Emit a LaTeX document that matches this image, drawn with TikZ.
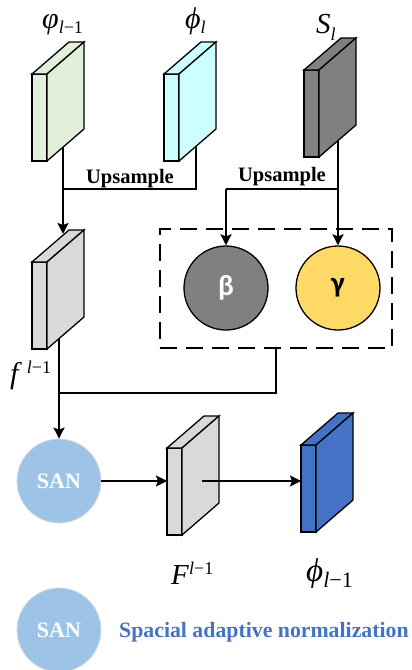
\documentclass[tikz,border=0pt]{standalone}
\usepackage{fontspec}
\setmainfont{Liberation Serif}
\newfontfamily\calib{Carlito}
\usetikzlibrary{arrows.meta}
\definecolor{cgreen}{HTML}{E2EFDA}
\definecolor{ccyan}{HTML}{CCFFFF}
\definecolor{cdark}{HTML}{808080}
\definecolor{clight}{HTML}{D9D9D9}
\definecolor{cblue}{HTML}{4472C4}
\definecolor{cyel}{HTML}{FFD966}
\definecolor{csan}{HTML}{9DC3E6}
\newcommand{\slab}[3]{%
  \filldraw[slabline,fill=#3] (#1,#2) rectangle ++(15,87);
  \filldraw[slabline,fill=#3] (#1,#2) -- ++(37,-32) -- ++(15,0) -- ++(-37,32) -- cycle;
  \filldraw[slabline,fill=#3] (#1+15,#2) -- ++(37,-32) -- ++(0,87) -- ++(-37,32) -- cycle;
}
\newcommand{\fsz}[1]{\fontsize{#1}{#1}\selectfont}
\begin{document}
\begin{tikzpicture}[x=1pt,y=-1pt,
  slabline/.style={draw=black,line width=1.3pt,line join=miter},
  conn/.style={draw=black,line width=2pt},
  arr/.style={conn,-{Stealth[length=11pt,width=11pt,inset=2pt]}},
  circ/.style={circle,minimum size=84pt,inner sep=0pt,draw=black,line width=1.3pt},
  sancirc/.style={circle,minimum size=84pt,inner sep=0pt,fill=csan,draw=white!70!gray,line width=0.8pt,text=white,font=\fsz{22}\bfseries},
  lbl/.style={inner sep=0pt,anchor=base west},
  upl/.style={inner sep=0pt,font=\fsz{20.5}\bfseries}]
\useasboundingbox (0,0) rectangle (412,670);
% slabs
\slab{32}{74}{cgreen}
\slab{164}{74}{ccyan}
\slab{304}{70}{cdark}
\slab{32}{262}{clight}
\slab{167}{448}{clight}
\slab{301}{445}{cblue}
% labels
\node[lbl] (lphi) at (42,28) {\fsz{30}\textit{φ}\raisebox{-5pt}{\fsz{18}\textit{l}−1}};
\node[lbl] (lphil) at (185,28) {\fsz{30}\textit{ϕ}\raisebox{-5pt}{\fsz{18}\textit{l}}};
\node[lbl] (lS) at (316,33) {\fsz{29}\textit{S}\raisebox{-7pt}{\fsz{18}\textit{l}}};
\node[lbl] (lf) at (10,383) {\fsz{30}\textit{f}\,\raisebox{10pt}{\fsz{18}\textit{l}−1}};
\node[lbl] (lF) at (171,584) {\fsz{29}\textit{F}\raisebox{10pt}{\fsz{18}\textit{l}−1}};
\node[lbl] (lphi2) at (306,581) {\fsz{33}\textit{ϕ}\raisebox{-6pt}{\fsz{22}\textit{l}−1}};
% anchors on slabs
\coordinate (gs) at (63,147);
\coordinate (cs) at (196,147);
\coordinate (ss) at (338,141);
\coordinate (ftop) at (63,234);
\coordinate (fs) at (59,338);
\coordinate (Fin) at (167,481);
\coordinate (Fc) at (202,481);
\coordinate (Bin) at (301,481);
\coordinate (up1) at (0,189);
\coordinate (jn) at (0,393);
% circles
\node[circ,fill=cdark,text=white,font=\calib\fsz{29}\bfseries] (beta) at (226,288) {β};
\node[circ,fill=cyel,text=black,font=\calib\fsz{29}\bfseries] (gamma) at (338,288) {γ};
\node[draw=black,line width=2pt,dash pattern=on 17pt off 9pt,inner sep=0pt,minimum width=232pt,minimum height=119pt] (dbox) at (276,288.5) {};
\node[sancirc] (san) at (59,481) {SAN};
\node[sancirc] (san2) at (59,630) {SAN};
\node[inner sep=0pt,anchor=west,text=cblue,font=\fsz{21.8}\bfseries] (legend) at (119,632) {Spacial adaptive normalization};
% upsample labels
\node[upl] (up1lbl) at (130,179) {Upsample};
\node[upl] (up2lbl) at (282,177) {Upsample};
% connectors
\draw[conn] (gs) -- (gs |- up1) -- (cs |- up1) -- (cs);
\draw[arr] (gs |- up1) -- (ftop);
\draw[conn] (ss) -- (ss |- up1) -- (beta.north |- up1);
\draw[arr] (beta.north |- up1) -- (beta.north);
\draw[arr] (ss |- up1) -- (gamma.north);
\draw[conn] (dbox.south) -- (dbox.south |- jn) -- (fs |- jn);
\draw[arr] (fs) -- (san.north);
\draw[arr] (san.east) -- (Fin);
\draw[arr] (Fc) -- (Bin);
\end{tikzpicture}
\end{document}
